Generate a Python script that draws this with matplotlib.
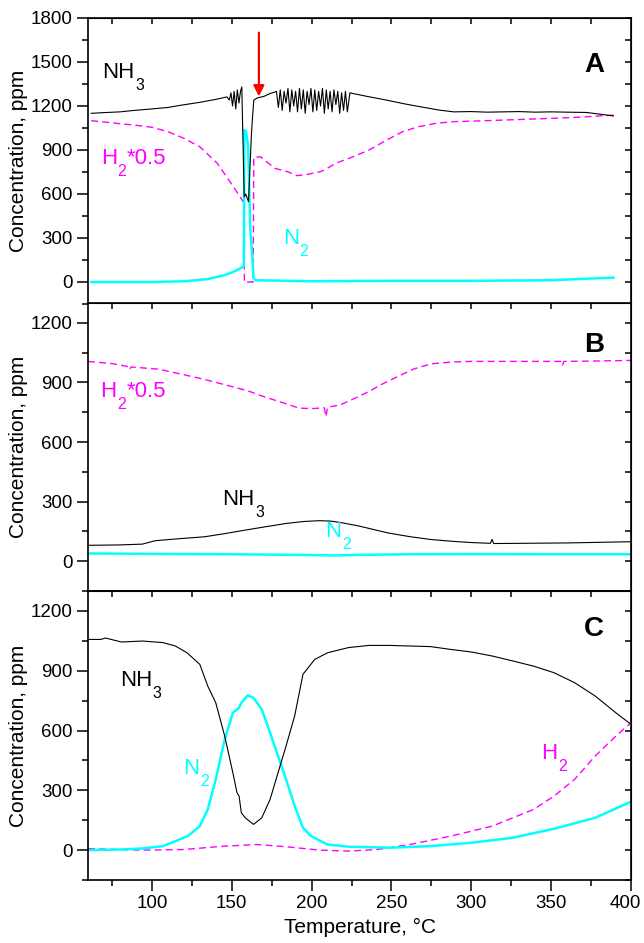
import numpy as np
import matplotlib.pyplot as plt
from matplotlib.ticker import MultipleLocator
from matplotlib.transforms import ScaledTranslation

plt.rcParams['font.family'] = ['Liberation Sans', 'DejaVu Sans']

# ---- panel A ----
a_nh3_t = [62, 70, 80, 89, 100, 110, 118, 130, 140, 147,
           148.5, 149.5, 150.5, 151.5, 152.5, 153.5, 154.5, 155.5, 156.3,
           157.8, 158.8, 160.5, 161.5, 162.3, 163, 163.8, 166, 170, 174, 177,
           178, 179.2, 180.4, 181.6, 182.8, 184, 185.2, 186.4, 187.6, 188.8,
           190, 191.2, 192.4, 193.6, 194.8, 196, 197.2, 198.4, 199.6, 200.8,
           202, 203.2, 204.4, 205.6, 206.8, 208, 209.2, 210.4, 211.6, 212.8,
           214, 215.2, 216.4, 217.6, 218.8, 220, 221.2, 222.4,
           224, 226, 235, 247, 258, 268, 280, 289, 300, 310, 320, 330, 340,
           350, 360, 372, 380, 389]
a_nh3_v = [1150, 1155, 1160, 1170, 1180, 1190, 1205, 1225, 1245, 1262,
           1240, 1290, 1200, 1300, 1180, 1310, 1220, 1300, 1330,
           581, 600, 547, 800, 1000, 1120, 1240, 1255, 1265, 1285, 1295,
           1300, 1190, 1310, 1170, 1300, 1220, 1320, 1160, 1310, 1200,
           1300, 1160, 1320, 1180, 1310, 1150, 1300, 1210, 1320, 1160,
           1310, 1170, 1300, 1200, 1320, 1150, 1310, 1180, 1300, 1160,
           1310, 1210, 1300, 1150, 1290, 1170, 1300, 1160,
           1290, 1285, 1265, 1240, 1215, 1195, 1172, 1160, 1162, 1158, 1160,
           1162, 1158, 1160, 1158, 1156, 1145, 1132]

a_h2_t = [62, 75, 89, 100, 110, 120, 130, 141, 151, 156.5, 157.6, 157.9,
          163.4, 163.8, 168, 177, 185, 191, 198, 205, 208, 215, 226, 236,
          247, 257, 267, 278, 288, 310, 330, 351, 370, 389]
a_h2_v = [1100, 1085, 1070, 1055, 1025, 980, 922, 809, 650, 559, 540, 0,
          0, 850, 854, 775, 752, 725, 735, 751, 763, 809, 854, 900,
          968, 1025, 1059, 1082, 1093, 1100, 1108, 1116, 1125, 1138]

a_n2_t = [62, 80, 100, 120, 135, 145, 150, 154, 156.5, 157.6, 157.9, 159,
          160.3, 161, 161.6, 162.8, 163.6, 165, 175, 200, 250, 300, 350, 389]
a_n2_v = [0, 0, 0, 5, 20, 45, 65, 85, 100, 110, 1036, 1025,
          920, 627, 355, 190, 27, 12, 10, 5, 8, 8, 12, 30]

# ---- panel B ----
b_nh3_t = [60, 80, 94, 102, 115, 133, 145, 158, 170, 184, 195, 205, 212,
           218, 228, 236, 248, 262, 275, 290, 300, 312, 313, 314, 330, 360,
           400]
b_nh3_v = [80, 82, 86, 103, 112, 123, 138, 156, 172, 190, 200, 204, 202,
           195, 180, 165, 142, 123, 109, 99, 94, 90, 110, 89, 90, 92, 98]

b_h2_t = [60, 75, 85, 86, 87, 104, 120, 133, 146, 160, 171, 182, 192, 200,
          205, 208, 209, 210, 218, 227, 236, 245, 254, 264, 275, 288, 300,
          330, 356, 357, 358, 380, 400]
b_h2_v = [1006, 995, 980, 965, 978, 967, 939, 915, 888, 858, 826, 798, 771,
          768, 771, 772, 728, 775, 787, 820, 855, 895, 930, 968, 994, 1003,
          1006, 1006, 1006, 985, 1006, 1008, 1011]

b_n2_t = [60, 100, 150, 190, 205, 215, 230, 260, 300, 350, 400]
b_n2_v = [39, 37, 35, 32, 30, 29, 32, 35, 36, 35, 35]

# ---- panel C ----
c_nh3_t = [60, 68, 71, 81, 94, 107, 114.7, 122, 130, 135, 140, 145.6,
           150.7, 153.3, 154.6, 156, 158.5, 163.6, 168.8, 174, 179, 184,
           189.4, 194.6, 202, 210, 223, 236, 248.7, 261.6, 274.5, 287, 300,
           313, 326, 339, 351.8, 364.7, 377.6, 390.5, 400]
c_nh3_v = [1057, 1057, 1064, 1044, 1049, 1041, 1024, 990, 932, 823, 739,
           572, 388, 288, 271, 187, 162, 129, 162, 254, 388, 522, 673, 882,
           957, 990, 1016, 1027, 1027, 1024, 1021, 1007, 994, 974, 949, 923,
           890, 840, 773, 689, 631]

c_n2_t = [60, 81, 94, 107, 114.7, 122.4, 130, 135, 140, 145.6, 150.7,
          154.6, 156, 160, 163.6, 168.8, 174, 179, 184, 189.4, 194.6, 199.7,
          210, 223, 248.7, 274.5, 300, 326, 351.8, 377.6, 400]
c_n2_v = [0, 3, 8, 20, 45, 70, 120, 204, 355, 555, 689, 714, 739, 776, 764,
          706, 589, 472, 355, 221, 112, 70, 28, 17, 12, 20, 37, 62, 107,
          162, 243]

c_h2_t = [60, 94, 120, 145.6, 166, 184, 205, 223, 241, 261.6, 287, 313,
          339, 351.8, 364.7, 377.6, 390.5, 400]
c_h2_v = [7, 0, 3, 20, 28, 17, 0, -5, 3, 28, 70, 120, 204, 271, 355, 472,
          572, 639]

x_ticks = [100, 150, 200, 250, 300, 350, 400]

MAGENTA = '#ff00ff'
CYAN = '#00ffff'


def sub_label(ax, x, y, main, sub, tail='', color='black'):
    # big letters, a low subscript, then optional text on the main baseline
    t = ax.text(x, y, main, fontsize=16, color=color, va='center')
    s = ax.annotate(sub, xy=(1, 0), xycoords=t, xytext=(0.5, 3.5),
                    textcoords='offset points', fontsize=11.5, color=color,
                    va='top', ha='left')
    if tail:
        ax.annotate(tail, xy=(1, 0), xycoords=(s, t), xytext=(0.5, 0),
                    textcoords='offset points', fontsize=16, color=color,
                    va='bottom', ha='left')


W, H = 644, 943
fig = plt.figure(figsize=(W / 100, H / 100), dpi=100)

left, right = 88 / W, 631 / W
boxes = [(18, 304), (303, 591), (591, 880)]
ylims = [(-150, 1800), (-150, 1300), (-150, 1300)]
yticks = [np.arange(0, 1801, 300), np.arange(0, 1201, 300),
          np.arange(0, 1201, 300)]

axes = []
for (top, bot), yl, yt in zip(boxes, ylims, yticks):
    ax = fig.add_axes([left, 1 - bot / H, right - left, (bot - top) / H])
    ax.set_xlim(60, 400)
    ax.set_ylim(*yl)
    ax.set_xticks(x_ticks)
    ax.xaxis.set_minor_locator(MultipleLocator(25))
    ax.set_yticks(yt)
    ax.yaxis.set_minor_locator(MultipleLocator(150))
    ax.tick_params(which='major', direction='out', length=8, width=1.1,
                   labelsize=13.5, pad=3)
    ax.tick_params(which='minor', direction='out', length=4, width=1.1)
    for s in ax.spines.values():
        s.set_linewidth(1.2)
    # top and right: inward ticks, no labels
    top_ax = ax.secondary_xaxis('top')
    top_ax.set_xticks(np.arange(75, 400, 25))
    top_ax.tick_params(direction='in', length=4, width=1.1, labeltop=False)
    right_ax = ax.secondary_yaxis('right')
    right_ax.set_yticks(np.arange(-150, yl[1] + 1, 150))
    right_ax.tick_params(direction='in', length=4, width=1.1,
                         labelright=False)
    ax.set_ylabel('Concentration, ppm', fontsize=15)
    ax.yaxis.set_label_coords(-0.11, 0.5)
    axes.append(ax)

ax_a, ax_b, ax_c = axes
ax_a.tick_params(labelbottom=False)
ax_b.tick_params(labelbottom=False)

nh3_kw = dict(color='black', lw=0.8)
h2_kw = dict(color=MAGENTA, lw=1.0, ls=(0, (5, 3)))
n2_kw = dict(color=CYAN, lw=1.8)

# A
ax_a.plot(a_h2_t, a_h2_v, **h2_kw)
ax_a.plot(a_n2_t, a_n2_v, **n2_kw)
ax_a.plot(a_nh3_t, a_nh3_v, **nh3_kw)
ax_a.annotate('', xy=(167, 1265), xytext=(167, 1700),
              arrowprops=dict(arrowstyle='-|>', color='red', lw=1.6,
                              mutation_scale=16, shrinkA=0, shrinkB=0))
sub_label(ax_a, 69, 1430, 'NH', '3')
sub_label(ax_a, 68, 840, 'H', '2', '*0.5', color=MAGENTA)
sub_label(ax_a, 182, 300, 'N', '2', color=CYAN)
ax_a.text(377, 1479, 'A', fontsize=20, fontweight='bold', ha='center',
          va='center')

# B
ax_b.plot(b_h2_t, b_h2_v, **h2_kw)
ax_b.plot(b_n2_t, b_n2_v, **n2_kw)
ax_b.plot(b_nh3_t, b_nh3_v, **nh3_kw)
sub_label(ax_b, 67.5, 853, 'H', '2', '*0.5', color=MAGENTA)
sub_label(ax_b, 144, 311, 'NH', '3')
sub_label(ax_b, 208.5, 151, 'N', '2', color=CYAN)
ax_b.text(377, 1090, 'B', fontsize=20, fontweight='bold', ha='center',
          va='center')

# C
ax_c.plot(c_h2_t, c_h2_v, **h2_kw)
ax_c.plot(c_n2_t, c_n2_v, **n2_kw)
ax_c.plot(c_nh3_t, c_nh3_v, **nh3_kw)
sub_label(ax_c, 80, 851, 'NH', '3')
sub_label(ax_c, 119.5, 408, 'N', '2', color=CYAN)
sub_label(ax_c, 344, 483, 'H', '2', color=MAGENTA)
ax_c.text(377, 1107, 'C', fontsize=20, fontweight='bold', ha='center',
          va='center')
ax_c.set_xlabel('Temperature, °C', fontsize=15, labelpad=4)

# last x label sits a little left so it stays inside the figure
last = ax_c.get_xticklabels()[-1]
last.set_transform(last.get_transform()
                   + ScaledTranslation(-4 / 72, 0, fig.dpi_scale_trans))

fig.savefig('out.png', dpi=100)
